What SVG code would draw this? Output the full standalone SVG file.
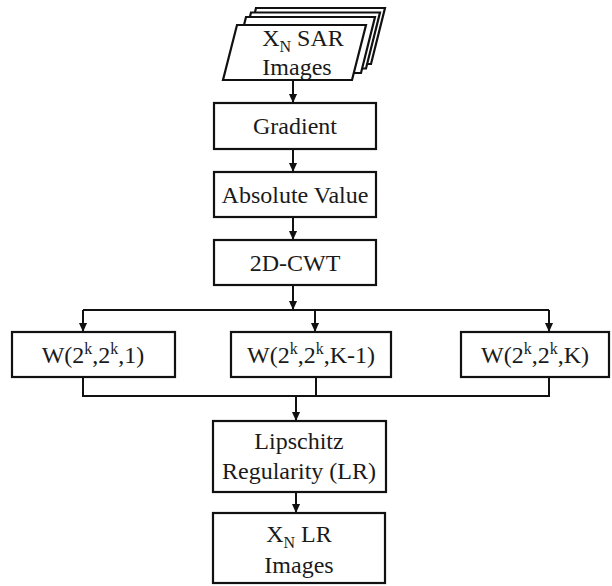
<svg xmlns="http://www.w3.org/2000/svg" width="612" height="586" viewBox="0 0 612 586">
<style>
.box{fill:#fff;stroke:#111;stroke-width:2.2}
.t{font-family:"Liberation Serif","Times New Roman",serif;font-size:24px;fill:#1a1a1a;text-anchor:middle}
.sub{font-size:16px}
.line{fill:none;stroke:#111;stroke-width:2}
</style>
<defs>
<marker id="arr" viewBox="0 0 10 10" refX="10" refY="5" markerWidth="10" markerHeight="9" markerUnits="userSpaceOnUse" orient="auto">
<path d="M0,0.5 L10,5 L0,9.5 Z" fill="#111"/>
</marker>
</defs>
<rect width="612" height="586" fill="#fff"/>
<g id="sar-images">
<polygon class="box" points="256,8 385,8 371,64 242,64"/>
<polygon class="box" points="251,12.5 380,12.5 366,68.5 237,68.5"/>
<polygon class="box" points="246,17 375,17 361,73 232,73"/>
<polygon class="box" points="237,25 366,25 352,80 223,80"/>
<text class="t" x="303" y="46">X<tspan class="sub" dy="6">N</tspan><tspan dy="-6"> SAR</tspan></text>
<text class="t" x="297" y="75">Images</text>
</g>
<g id="gradient">
<rect class="box" x="214" y="103" width="162" height="46"/>
<text class="t" x="295" y="134">Gradient</text>
</g>
<g id="absolute-value">
<rect class="box" x="214" y="172" width="162" height="45"/>
<text class="t" x="295" y="203">Absolute Value</text>
</g>
<g id="cwt">
<rect class="box" x="214" y="240" width="162" height="45"/>
<text class="t" x="295" y="271">2D-CWT</text>
</g>
<g id="w1">
<rect class="box" x="12" y="332" width="163" height="45"/>
<text class="t" x="93" y="363">W(2<tspan class="sub" dy="-9">k</tspan><tspan dy="9">,2</tspan><tspan class="sub" dy="-9">k</tspan><tspan dy="9">,1)</tspan></text>
</g>
<g id="wk1">
<rect class="box" x="231" y="332" width="160" height="45"/>
<text class="t" x="311" y="363">W(2<tspan class="sub" dy="-9">k</tspan><tspan dy="9">,2</tspan><tspan class="sub" dy="-9">k</tspan><tspan dy="9">,K-1)</tspan></text>
</g>
<g id="wk">
<rect class="box" x="461" y="332" width="148" height="45"/>
<text class="t" x="535" y="363">W(2<tspan class="sub" dy="-9">k</tspan><tspan dy="9">,2</tspan><tspan class="sub" dy="-9">k</tspan><tspan dy="9">,K)</tspan></text>
</g>
<g id="lipschitz">
<rect class="box" x="213" y="421" width="173" height="71"/>
<text class="t" x="299" y="449">Lipschitz</text>
<text class="t" x="299" y="479">Regularity (LR)</text>
</g>
<g id="lr-images">
<rect class="box" x="213" y="513" width="172" height="70"/>
<text class="t" x="299" y="542">X<tspan class="sub" dy="6">N</tspan><tspan dy="-6"> LR</tspan></text>
<text class="t" x="299" y="573">Images</text>
</g>
<g id="connectors">
<line class="line" x1="293" y1="80" x2="293" y2="103" marker-end="url(#arr)"/>
<line class="line" x1="293" y1="149" x2="293" y2="172" marker-end="url(#arr)"/>
<line class="line" x1="293" y1="217" x2="293" y2="240" marker-end="url(#arr)"/>
<line class="line" x1="293" y1="285" x2="293" y2="310" marker-end="url(#arr)"/>
<line class="line" x1="83" y1="310" x2="549" y2="310"/>
<line class="line" x1="83" y1="310" x2="83" y2="332" marker-end="url(#arr)"/>
<line class="line" x1="315" y1="310" x2="315" y2="332" marker-end="url(#arr)"/>
<line class="line" x1="549" y1="310" x2="549" y2="332" marker-end="url(#arr)"/>
<polyline class="line" points="83,377 83,396 549,396 549,377"/>
<line class="line" x1="316" y1="377" x2="316" y2="396"/>
<line class="line" x1="296" y1="396" x2="296" y2="421" marker-end="url(#arr)"/>
<line class="line" x1="296" y1="492" x2="296" y2="513" marker-end="url(#arr)"/>
</g>
</svg>
